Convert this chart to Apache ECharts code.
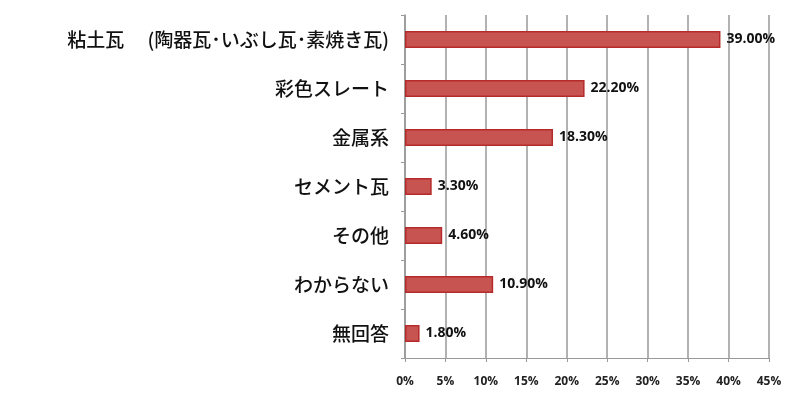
<!DOCTYPE html>
<html><head><meta charset="utf-8">
<script src="https://cdn.jsdelivr.net/npm/echarts@6/dist/echarts.min.js"></script>
<style>html,body{margin:0;background:#fff}#c{width:800px;height:411px}</style>
</head><body><div id="c"></div>
<script>
const categories = ["粘土瓦　 (陶器瓦･いぶし瓦･素焼き瓦)", "彩色スレート", "金属系", "セメント瓦", "その他", "わからない", "無回答"];
const values = [39.0, 22.2, 18.3, 3.3, 4.6, 10.9, 1.8];
const tickStep = 5;
const chart = echarts.init(document.getElementById('c'));
chart.setOption({
  animation: false,
  grid: {left: 405, right: 31, top: 15, bottom: 53},
  xAxis: {
    type: 'value', min: 0, max: 45, interval: tickStep,
    axisLabel: {formatter: '{value}%', fontFamily: 'Open Sans', fontWeight: 'bold', fontSize: 12, color: '#222', margin: 18},
    splitLine: {lineStyle: {color: '#999', width: 1.5}},
    axisLine: {show: true, lineStyle: {color: '#999'}},
    axisTick: {show: true, length: 4, lineStyle: {color: '#999'}}
  },
  yAxis: {
    type: 'category', data: categories, inverse: true,
    axisLine: {show: true, lineStyle: {color: '#999', width: 1.5}},
    axisTick: {show: true, length: 4, lineStyle: {color: '#999'}},
    axisLabel: {fontFamily: 'Noto Sans CJK JP', fontWeight: 500, fontSize: 19, color: '#111', margin: 16}
  },
  series: [{
    type: 'bar', data: values, barWidth: 17,
    itemStyle: {color: '#c85452', borderColor: '#b52b2b', borderWidth: 1.5},
    label: {show: true, position: 'right', formatter: p => p.value.toFixed(2) + '%',
      fontFamily: 'Open Sans', fontWeight: 'bold', fontSize: 14, color: '#111', distance: 6}
  }]
});
</script></body></html>
